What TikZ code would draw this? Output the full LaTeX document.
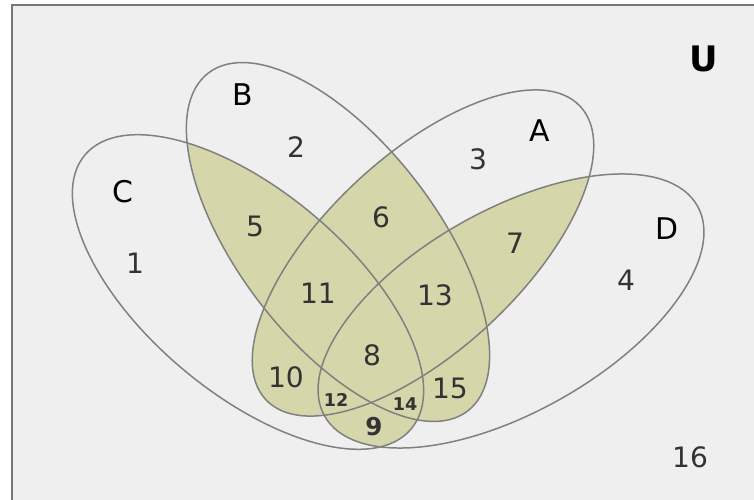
\documentclass[tikz,border=0pt]{standalone}
\usepackage{fontspec}
\setmainfont{DejaVu Sans}
\definecolor{vnback}{RGB}{239,239,239}
\definecolor{vnframe}{RGB}{118,118,118}
\definecolor{vnline}{RGB}{128,128,128}
\definecolor{vnfill}{RGB}{213,214,170}
\definecolor{vntext}{RGB}{51,51,51}
% the four sets (pixel units, y upwards)
\newcommand{\ellA}{(423,247) circle [x radius=215, y radius=97.5, rotate=43]}
\newcommand{\ellB}{(338,258) circle [x radius=213, y radius=99, rotate=-52.5]}
\newcommand{\ellC}{(248,208) circle [x radius=213, y radius=101, rotate=-40]}
\newcommand{\ellD}{(511,189) circle [x radius=214, y radius=101, rotate=29.4]}
\begin{document}
\begin{tikzpicture}[
  x=0.02cm, y=0.02cm,
  setline/.style={draw=vnline, line width=0.85pt},
  region/.style={text=vntext, font=\fontsize{16}{18}\selectfont, inner sep=0pt},
  small/.style={text=vntext, font=\bfseries\fontsize{10}{12}\selectfont, inner sep=0pt},
  setname/.style={text=black, font=\fontsize{17}{19}\selectfont, inner sep=0pt}
]
  \useasboundingbox (0,0) rectangle (754,500);
  \clip (0,0) rectangle (754,500);
  \fill[white] (0,0) rectangle (754,500);
  \draw[fill=vnback, draw=vnframe, line width=1.1pt] (12,-20) rectangle (780,495);

  % shading: every pairwise overlap
  \foreach \p/\q in {\ellA/\ellB, \ellA/\ellC, \ellA/\ellD, \ellB/\ellC, \ellB/\ellD, \ellC/\ellD} {
    \begin{scope}
      \clip \p;
      \fill[vnfill] \q;
    \end{scope}
  }

  \draw[setline] \ellA;
  \draw[setline] \ellB;
  \draw[setline] \ellC;
  \draw[setline] \ellD;

  % set names
  \node[setname] (nameA) at (540,369) {A};
  \node[setname] (nameB) at (243,405) {B};
  \node[setname] (nameC) at (123,308) {C};
  \node[setname] (nameD) at (667,271) {D};
  \node[text=black, font=\bfseries\fontsize{20}{22}\selectfont, inner sep=0pt] (nameU) at (704,441) {U};

  % regions
  \node[region] (r1) at (135,237) {1};
  \node[region] (r2) at (296,353) {2};
  \node[region] (r3) at (478,341) {3};
  \node[region] (r4) at (626,220) {4};
  \node[region] (r5) at (255,274) {5};
  \node[region] (r6) at (381,283) {6};
  \node[region] (r7) at (515,257) {7};
  \node[region] (r8) at (372,145) {8};
  \node[region] (r10) at (286,123) {10};
  \node[region] (r11) at (318,207) {11};
  \node[region] (r13) at (435,205) {13};
  \node[region] (r15) at (450,112) {15};
  \node[region] (r16) at (690,43) {16};
  \node[small] (r12) at (336,100) {12};
  \node[small] (r14) at (405,96) {14};
  \node[small, font=\bfseries\fontsize{14}{16}\selectfont] (r9) at (374,73) {9};
\end{tikzpicture}
\end{document}
